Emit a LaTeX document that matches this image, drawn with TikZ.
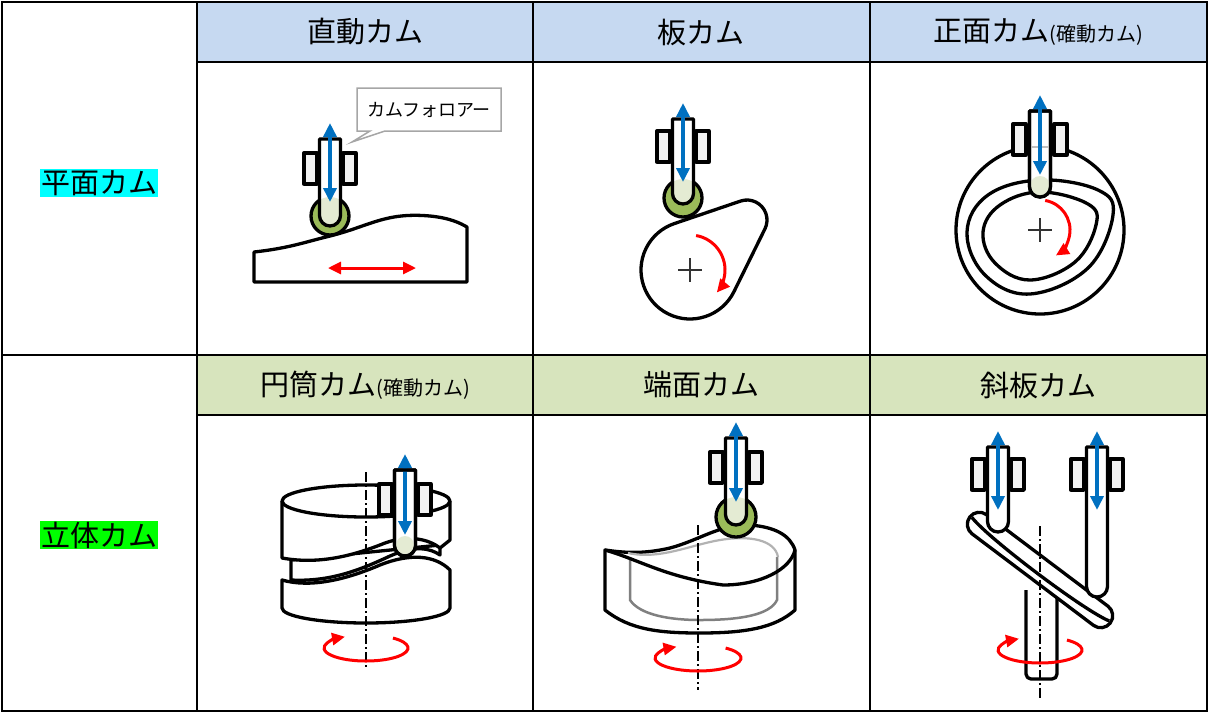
\documentclass[tikz,border=0pt]{standalone}
\usepackage{fontspec}
\newfontfamily\jp{Noto Sans CJK JP}
\usetikzlibrary{arrows.meta}
\definecolor{hblue}{HTML}{C6D9F1}
\definecolor{hgreen}{HTML}{D7E4BD}
\definecolor{ablue}{HTML}{0070C0}
\definecolor{rgreen}{HTML}{9BBB59}
\definecolor{rlight}{HTML}{E4EBD3}
\definecolor{gfill}{HTML}{F2F2F2}
\definecolor{cyanc}{HTML}{00FFFF}
\definecolor{greenc}{HTML}{00FF00}
\definecolor{redc}{HTML}{FF0000}
\tikzset{
 grid/.style={line width=1.8pt,black},
 ol/.style={line width=3.3pt,black,line join=round},
 head/.style={font=\jp\fontsize{29}{32}\selectfont},
 small/.style={font=\jp\fontsize{18}{20}\selectfont},
 blue arrow/.style={ablue,line width=3.5pt,{Triangle[length=14pt,width=13pt]}-{Triangle[length=14pt,width=13pt]}},
 red arrow/.style={redc,line width=3pt,-{Triangle[length=13pt,width=12pt]}},
 redd/.style={redc,line width=3pt,{Triangle[length=13pt,width=12pt]}-{Triangle[length=13pt,width=12pt]}},
 axis/.style={line width=1.3pt,dash pattern=on 10pt off 3pt on 2pt off 3pt},
 cross/.style={line width=1.3pt,black!80},
}
\def\rodpath#1#2#3{({#1-10.5},#2) -- ({#1-10.5},{#3-10.5}) arc[start angle=180,end angle=0,radius=10.5] -- ({#1+10.5},#2) -- cycle}
% cx, rodtop, rodbottom, guidetop, arrowtop, arrowbottom
\newcommand\camfol[6]{
 \draw[ol,fill=gfill] ({#1-26},#4) rectangle ({#1-13},{#4+31});
 \draw[ol,fill=gfill] ({#1+13},#4) rectangle ({#1+26},{#4+31});
 \draw[ol,fill=white] \rodpath{#1}{#2}{#3};
 \draw[blue arrow] (#1,#5) -- (#1,#6);
}
\newcommand\rollfol[9]{% cx top bot gtop atop abot rx ry r
 \draw[ol,fill=gfill] ({#1-26},#4) rectangle ({#1-13},{#4+31});
 \draw[ol,fill=gfill] ({#1+13},#4) rectangle ({#1+26},{#4+31});
 \draw[ol,fill=rgreen] (#7,#8) circle[radius=#9];
 \fill[white] \rodpath{#1}{#2}{#3};
 \begin{scope}\clip (#7,#8) circle[radius=#9]; \fill[rlight] \rodpath{#1}{#2}{#3};\end{scope}
 \draw[ol] \rodpath{#1}{#2}{#3};
 \draw[blue arrow] (#1,#5) -- (#1,#6);
}
\begin{document}
\begin{tikzpicture}[x=1pt,y=-1pt]
\useasboundingbox (0,0) rectangle (1209,713);
% headers
\fill[hblue] (197,2) rectangle (1207,62);
\fill[hgreen] (197,355) rectangle (1207,415);
\draw[grid] (2,2) rectangle (1207,711);
\draw[grid] (197,2) -- (197,711);
\draw[grid] (533,2) -- (533,711);
\draw[grid] (870,2) -- (870,711);
\draw[grid] (2,355) -- (1207,355);
\draw[grid] (197,62) -- (1207,62);
\draw[grid] (197,415) -- (1207,415);
\node[head] (h1) at (365,32) {直動カム};
\node[head] (h2) at (701,32) {板カム};
\node[head] (h3) at (1038,32) {正面カム\fontsize{20}{22}\selectfont(確動カム)};
\node[head] (h4) at (365,385) {円筒カム\fontsize{20}{22}\selectfont(確動カム)};
\node[head] (h5) at (701,385) {端面カム};
\node[head] (h6) at (1038,385) {斜板カム};
\node[head,fill=cyanc,inner sep=1pt] (r1) at (99,183) {平面カム};
\node[head,fill=greenc,inner sep=1pt] (r2) at (99,535) {立体カム};

% ===== cell 1 直動カム
\draw[ol,fill=white] (254,252) .. controls (290,248) and (305,242) .. (330,236)
  .. controls (370,226) and (385,212) .. (430,216) .. controls (450,218) and (460,223) .. (467,227)
  -- (467,282) -- (254,282) -- cycle;
\draw[redd] (328,268) -- (416,268);
\rollfol{330}{139}{226}{153}{123}{202}{330}{216}{19}
\draw[gray!70,line width=1.5pt,fill=white] (357,88) -- (501,88) -- (501,131) -- (385,131) -- (352,142) -- (370,131) -- (357,131) -- cycle;
\node[small] (cf) at (429,110) {カムフォロアー};

% ===== cell 2 板カム
\draw[ol,fill=white] ({690+49*cos(-108.8)},{270+49*sin(-108.8)}) -- ({747+20*cos(-108.8)},{220+20*sin(-108.8)})
  arc[start angle=-108.8,end angle=26.2,radius=20] -- ({690+49*cos(26.2)},{270+49*sin(26.2)})
  arc[start angle=26.2,end angle=251.2,radius=49];
\draw[cross] (678,270) -- (702,270) (690,258) -- (690,282);
\draw[red arrow] ({690+35*cos(-80)},{270+35*sin(-80)}) arc[start angle=-80,end angle=40,radius=35];
\rollfol{683}{119}{204}{131}{103}{182}{683}{198}{19}

% ===== cell 3 正面カム
\draw[ol] (1040,230) circle[radius=84];
\draw[ol] plot[smooth cycle,tension=0.65] coordinates {(1040,180) (1098,190) (1113,215) (1088,268) (1030,294) (985,275) (967,232) (988,195)};
\draw[ol] plot[smooth cycle,tension=0.65] coordinates {(1040,192) (1088,204) (1096,225) (1075,262) (1030,280) (995,263) (983,232) (1000,205)};
\draw[cross] (1028,230) -- (1052,230) (1040,218) -- (1040,242);
\draw[red arrow] ({1040+30*cos(-80)},{230+30*sin(-80)}) arc[start angle=-80,end angle=58,radius=30];
\draw[ol,fill=gfill] (1013,124) rectangle (1026,155);
\draw[ol,fill=gfill] (1054,124) rectangle (1067,155);
\draw[ol,fill=white] \rodpath{1040}{111}{197};
\fill[rlight] (1040,186) circle[radius=10];
\draw[ol] \rodpath{1040}{111}{197};
\draw[gray!50,line width=1.5pt] (1031,147) -- (1049,147);
\draw[blue arrow] (1040,95) -- (1040,175);

% ===== cell 4 円筒カム
\draw[ol,fill=white] (282,580) .. controls (310,588) and (345,580) .. (380,565) .. controls (410,553) and (435,555) .. (450,570)
  -- (450,608) arc[start angle=0,end angle=180,x radius=84,y radius=15] -- cycle;
\draw[ol,fill=white] (291,560) -- (291,580) .. controls (330,582) and (360,570) .. (390,556) .. controls (415,545) and (430,548) .. (440,555) -- (440,545) -- cycle;
\draw[ol,fill=white] (282,501) -- (282,558) .. controls (320,565) and (355,555) .. (385,543) .. controls (410,534) and (430,540) .. (440,548) -- (450,540) -- (450,501);
\draw[ol,fill=white] (366,501) ellipse[x radius=84,y radius=16];
\draw[axis] (366,472) -- (366,668);
\draw[red arrow] ({366+42*cos(-50)},{648+13*sin(-50)}) arc[start angle=-50,end angle=240,x radius=42,y radius=13];
\camfol{405}{470}{556}{484}{454}{535}
\fill[rlight] (405,545) circle[radius=9];
\draw[ol] \rodpath{405}{470}{556};

% ===== cell 5 端面カム
\draw[ol,fill=white] (605,550) -- (605,610) .. controls (630,630) and (660,633) .. (700,633) .. controls (745,633) and (775,628) .. (795,610) -- (795,550)
  .. controls (790,535) and (775,527) .. (750,525) .. controls (720,524) and (700,540) .. (670,548) .. controls (640,555) and (620,552) .. (605,550) -- cycle;
\draw[gray,line width=2.5pt] (630,557) -- (630,600) .. controls (640,615) and (670,620) .. (700,620) .. controls (740,620) and (770,615) .. (777,600) -- (777,557);
\draw[gray!60,line width=2.2pt] (628,553) .. controls (660,560) and (690,545) .. (720,540) .. controls (750,535) and (775,540) .. (778,557);
\draw[ol] (605,550) .. controls (640,560) and (665,577) .. (723,585) .. controls (760,585) and (790,570) .. (795,550);
\draw[axis] (698,525) -- (698,690);
\draw[red arrow] ({698+43*cos(-50)},{658+13*sin(-50)}) arc[start angle=-50,end angle=240,x radius=43,y radius=13];
\rollfol{736}{438}{525}{452}{422}{502}{736}{517}{20}

% ===== cell 6 斜板カム
\draw[ol,fill=white] (1026,590) -- (1026,674) arc[start angle=180,end angle=90,radius=5] -- (1052,679) arc[start angle=90,end angle=0,radius=5] -- (1057,590);
\begin{scope}[shift={(1040,570)},rotate=-37]
 \draw[ol,fill=white] (-76,-12) -- (76,-12) arc[start angle=-90,end angle=90,radius=12] -- (-76,12) arc[start angle=90,end angle=270,radius=12] -- cycle;
 \draw[ol] (-86,-1) .. controls (-60,6) and (60,6) .. (86,-1);
\end{scope}
\draw[axis] (1040,526) -- (1040,698);
\draw[red arrow] ({1040+42*cos(-50)},{650+13*sin(-50)}) arc[start angle=-50,end angle=240,x radius=42,y radius=13];
\camfol{998}{447}{532}{459}{431}{510}
\camfol{1097}{447}{597}{459}{431}{510}
\end{tikzpicture}
\end{document}
